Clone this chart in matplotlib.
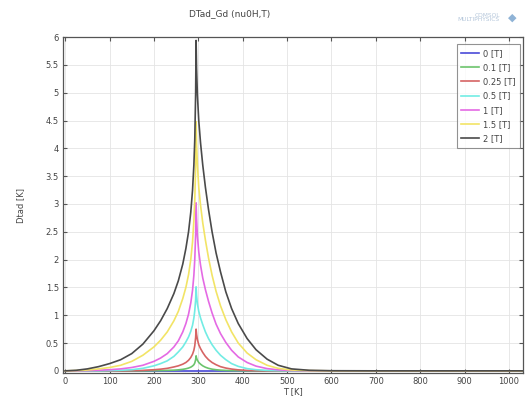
import numpy as np
import matplotlib.pyplot as plt

# temperature grid [K], denser around the Curie point of Gd
T = [0, 25, 50, 75, 100, 125, 150, 175, 200, 215,
     230, 245, 255, 265, 272, 278, 283, 287, 290, 292,
     294, 295, 296, 298, 301, 305, 310, 316, 323, 331,
     340, 350, 362, 375, 390, 410, 430, 455, 480, 510,
     550, 600, 700, 800, 900, 1000, 1040]

# adiabatic temperature change [K] per applied field
dT_0 = [0.0] * 47
dT_01 = [0, 0, 0, 0, 0, 0, 0, 0, 0.003, 0.005,
         0.008, 0.012, 0.018, 0.027, 0.037, 0.05, 0.066, 0.087, 0.11, 0.14,
         0.20, 0.27, 0.23, 0.19, 0.15, 0.12, 0.09, 0.065, 0.045, 0.03,
         0.02, 0.012, 0.007, 0.004, 0.002, 0, 0, 0, 0, 0,
         0, 0, 0, 0, 0, 0, 0]
dT_025 = [0, 0, 0, 0, 0, 0, 0.003, 0.008, 0.02, 0.03,
          0.045, 0.07, 0.09, 0.12, 0.15, 0.19, 0.24, 0.30, 0.37, 0.45,
          0.60, 0.75, 0.66, 0.56, 0.47, 0.40, 0.33, 0.26, 0.20, 0.15,
          0.11, 0.075, 0.05, 0.032, 0.018, 0.008, 0.003, 0, 0, 0,
          0, 0, 0, 0, 0, 0, 0]
dT_05 = [0, 0, 0, 0, 0.005, 0.01, 0.02, 0.045, 0.09, 0.13,
         0.18, 0.26, 0.34, 0.43, 0.52, 0.61, 0.71, 0.82, 0.95, 1.08,
         1.28, 1.51, 1.36, 1.20, 1.07, 0.95, 0.83, 0.70, 0.58, 0.47,
         0.37, 0.28, 0.20, 0.13, 0.08, 0.04, 0.02, 0.008, 0.003, 0,
         0, 0, 0, 0, 0, 0, 0]
dT_1 = [0, 0, 0.005, 0.01, 0.02, 0.035, 0.06, 0.10, 0.17, 0.23,
        0.31, 0.43, 0.54, 0.70, 0.85, 1.02, 1.22, 1.45, 1.72, 2.00,
        2.45, 3.02, 2.75, 2.42, 2.14, 1.90, 1.67, 1.46, 1.25, 1.04,
        0.84, 0.67, 0.51, 0.37, 0.25, 0.15, 0.085, 0.04, 0.018, 0.006,
        0.001, 0, 0, 0, 0, 0, 0]
dT_15 = [0, 0.005, 0.015, 0.035, 0.06, 0.10, 0.17, 0.28, 0.43, 0.55,
         0.70, 0.90, 1.07, 1.30, 1.50, 1.73, 2.00, 2.32, 2.70, 3.05,
         3.70, 4.48, 4.10, 3.70, 3.30, 2.98, 2.66, 2.35, 2.03, 1.72,
         1.43, 1.17, 0.92, 0.70, 0.50, 0.32, 0.20, 0.10, 0.045, 0.015,
         0.004, 0, 0, 0, 0, 0, 0]
dT_2 = [0, 0.01, 0.035, 0.075, 0.13, 0.20, 0.31, 0.48, 0.72, 0.90,
        1.12, 1.39, 1.62, 1.92, 2.20, 2.50, 2.85, 3.25, 3.70, 4.15,
        5.00, 5.94, 5.45, 4.95, 4.50, 4.10, 3.70, 3.30, 2.90, 2.50,
        2.12, 1.78, 1.42, 1.12, 0.85, 0.58, 0.38, 0.21, 0.10, 0.035,
        0.01, 0.002, 0, 0, 0, 0, 0]

labels = ['0 [T]', '0.1 [T]', '0.25 [T]', '0.5 [T]', '1 [T]', '1.5 [T]', '2 [T]']
colors = ['#4a4ad8', '#6cc46c', '#d66464', '#72ece4', '#e46ae4', '#f2e466', '#4a4a4a']

fig = plt.figure(figsize=(5.29, 3.99), dpi=100)
ax = fig.add_axes([0.119, 0.065, 0.870, 0.842])

for y, lab, c in zip([dT_0, dT_01, dT_025, dT_05, dT_1, dT_15, dT_2], labels, colors):
    ax.plot(T, y, color=c, lw=1.2, label=lab)

ax.set_xlim(-5, 1032)
ax.set_ylim(-0.04, 6)
ax.set_xticks(np.arange(0, 1001, 100))
ax.set_yticks(np.arange(0, 6.01, 0.5))
ax.set_yticklabels(['0', '0.5', '1', '1.5', '2', '2.5', '3', '3.5', '4', '4.5', '5', '5.5', '6'])
ax.tick_params(direction='in', top=True, right=True, labelsize=6, length=3,
               color='#555555', labelcolor='#444444', pad=3)
ax.grid(True, color='#e4e4e4', lw=0.6)
for s in ax.spines.values():
    s.set_color('#555555')
    s.set_linewidth(0.9)

ax.set_xlabel('T [K]', fontsize=6, color='#444444', labelpad=1)
ax.set_ylabel('Dtad [K]', fontsize=6, color='#444444', labelpad=15)
fig.text(0.435, 0.965, 'DTad_Gd (nu0H,T)', fontsize=6.5, color='#444444', ha='center', va='center')

# faint software logo, top right
fig.text(0.945, 0.956, 'COMSOL\nMULTIPHYSICS', fontsize=4.2, color='#b4c6da',
         ha='right', va='center', linespacing=0.9, multialignment='right')
fig.text(0.968, 0.956, u'\u25C6', fontsize=8, color='#8fb3d6', ha='center', va='center')

leg = ax.legend(loc='upper right', fontsize=6, frameon=True, fancybox=False,
                edgecolor='#777777', borderpad=0.55, labelspacing=0.62,
                handlelength=2.1, handletextpad=0.5, bbox_to_anchor=(0.993, 0.978),
                borderaxespad=0)
leg.get_frame().set_linewidth(0.8)
for t in leg.get_texts():
    t.set_color('#444444')

fig.savefig('out.png', dpi=100)
